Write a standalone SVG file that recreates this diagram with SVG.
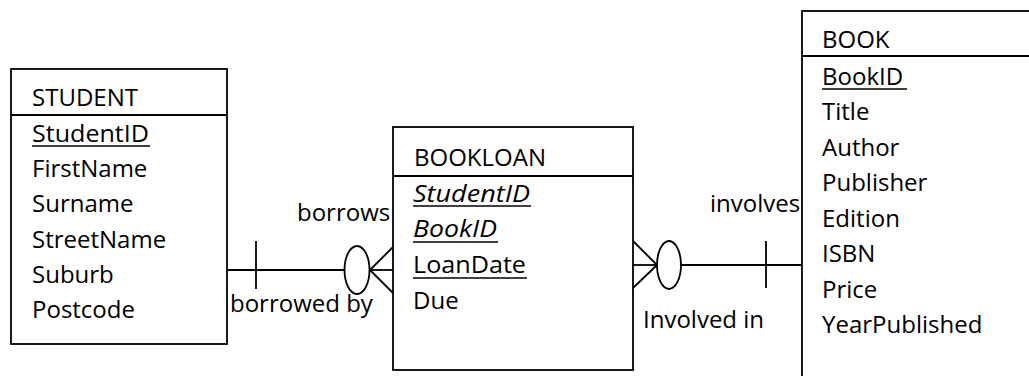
<svg xmlns="http://www.w3.org/2000/svg" width="1029" height="376" viewBox="0 0 1029 376">
<style>
.box{fill:#fff;stroke:#000;stroke-width:1.8}
.ln{fill:none;stroke:#000;stroke-width:1.8}
.ul{stroke:#000;stroke-width:1.6}
text{font-family:"Open Sans","Noto Sans",sans-serif;font-size:24px;fill:#000}
.it{font-style:italic}
</style>
<rect width="1029" height="376" fill="#fff"/>
<g id="connectors">
  <line class="ln" x1="227" y1="270" x2="345" y2="270"/>
  <line class="ln" x1="256" y1="241" x2="256" y2="289"/>
  <ellipse class="ln" cx="357" cy="270" rx="12.5" ry="24"/>
  <line class="ln" x1="370" y1="270" x2="393" y2="270"/>
  <line class="ln" x1="370" y1="270" x2="393" y2="247"/>
  <line class="ln" x1="370" y1="270" x2="393" y2="293"/>
  <line class="ln" x1="633" y1="265" x2="657" y2="265"/>
  <line class="ln" x1="633" y1="241" x2="657" y2="265"/>
  <line class="ln" x1="633" y1="288" x2="657" y2="265"/>
  <ellipse class="ln" cx="669" cy="265" rx="12" ry="24"/>
  <line class="ln" x1="681" y1="265" x2="802" y2="265"/>
  <line class="ln" x1="766" y1="241" x2="766" y2="288"/>
  <text x="297" y="221">borrows</text>
  <text x="230" y="312">borrowed by</text>
  <text x="710" y="212">involves</text>
  <text x="643" y="328">Involved in</text>
</g>
<g id="student">
  <rect class="box" x="11" y="69" width="216" height="275"/>
  <line class="ln" x1="11" y1="115" x2="227" y2="115"/>
  <text x="32" y="106">STUDENT</text>
  <text x="32" y="142" textLength="117" lengthAdjust="spacingAndGlyphs">StudentID</text>
  <line class="ul" x1="32" y1="146" x2="150" y2="146"/>
  <text x="32" y="177">FirstName</text>
  <text x="32" y="212">Surname</text>
  <text x="32" y="248">StreetName</text>
  <text x="32" y="283">Suburb</text>
  <text x="32" y="318">Postcode</text>
</g>
<g id="bookloan">
  <rect class="box" x="393" y="127" width="240" height="243"/>
  <line class="ln" x1="393" y1="176" x2="633" y2="176"/>
  <text x="414" y="166">BOOKLOAN</text>
  <text class="it" x="413" y="202" textLength="117" lengthAdjust="spacingAndGlyphs">StudentID</text>
  <line class="ul" x1="413" y1="206" x2="531" y2="206"/>
  <text class="it" x="413" y="237" textLength="84" lengthAdjust="spacingAndGlyphs">BookID</text>
  <line class="ul" x1="413" y1="242" x2="498" y2="242"/>
  <text x="413" y="273" textLength="113" lengthAdjust="spacingAndGlyphs">LoanDate</text>
  <line class="ul" x1="413" y1="278" x2="527" y2="278"/>
  <text x="413" y="309">Due</text>
</g>
<g id="book">
  <rect class="box" x="802" y="11" width="240" height="380"/>
  <line class="ln" x1="802" y1="56" x2="1040" y2="56"/>
  <text x="822" y="48">BOOK</text>
  <text x="822" y="85">BookID</text>
  <line class="ul" x1="822" y1="89" x2="907" y2="89"/>
  <text x="822" y="120">Title</text>
  <text x="822" y="156">Author</text>
  <text x="822" y="191">Publisher</text>
  <text x="822" y="227">Edition</text>
  <text x="822" y="262">ISBN</text>
  <text x="822" y="298">Price</text>
  <text x="822" y="333">YearPublished</text>
</g>
</svg>
